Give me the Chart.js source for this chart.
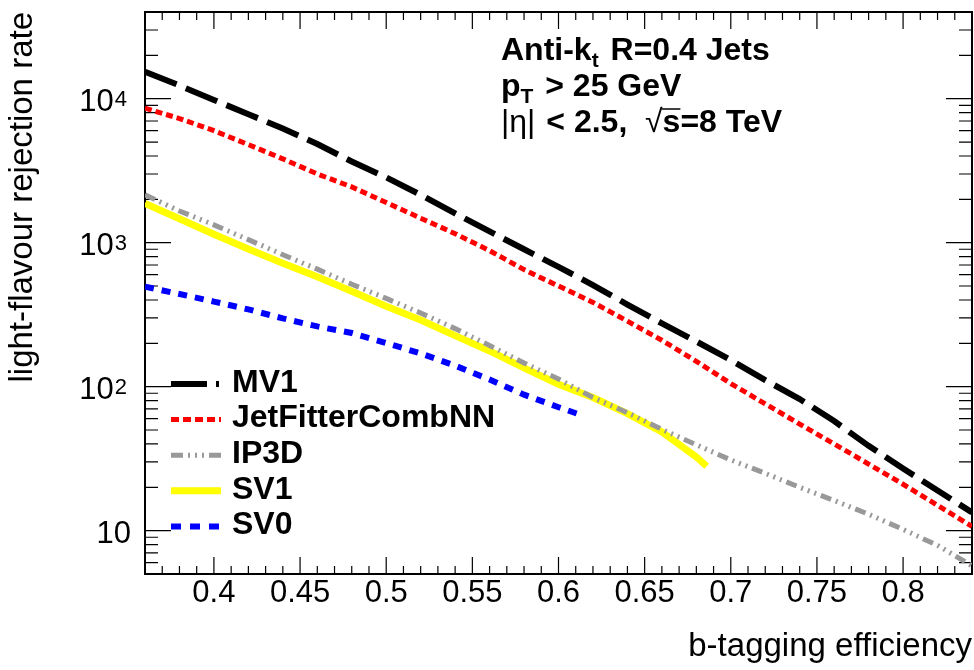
<!DOCTYPE html>
<html><head><meta charset="utf-8">
<script src="https://cdn.jsdelivr.net/npm/chart.js@4/dist/chart.umd.min.js"></script>
<style>html,body{margin:0;padding:0;background:#fff;}canvas{display:block;}</style>
</head><body>
<canvas id="c" width="974" height="670"></canvas>
<script>
// ---- data ----
const effMain = [0.36,0.38,0.40,0.42,0.44,0.46,0.48,0.50,0.52,0.54,0.56,0.58,0.60,0.62,0.64,0.66,0.68,0.70,0.72,0.74,0.76,0.78,0.80,0.82,0.84];
const mv1 =       [15400,12350,9800,7800,6210,4840,3660,2840,2150,1595,1197,900,679,508,372,275,206,153,111,82,57.7,38.8,27,19,13.4];
const jetFitter = [8600,7280,6000,4800,3820,3000,2440,1900,1480,1155,880,650,500,385,285,210,150,105,76,55,40,29,21,15,10.7];
const ip3d =      [2150,1660,1330,1050,825,655,515,410,325,253,193,146,113,84,66,50.5,39.5,31,25,20,16.2,13,10.2,7.9,5.7];
const effSV1 = [0.36,0.38,0.40,0.42,0.44,0.46,0.48,0.50,0.52,0.54,0.56,0.58,0.60,0.62,0.64,0.66,0.68,0.686];
const sv1 =    [1870,1465,1145,905,720,580,460,362,290,226,177,135,104,84,65,48.5,32.5,28];
const effSV0 = [0.36,0.38,0.40,0.42,0.44,0.46,0.48,0.50,0.52,0.54,0.56,0.58,0.60,0.614];
const sv0 =    [495,440,390,344,298,262,236,201,170,140,112,88,72,63];
const seriesNames = ['MV1','JetFitterCombNN','IP3D','SV1','SV0'];
const xTickValues = [0.4,0.45,0.5,0.55,0.6,0.65,0.7,0.75,0.8];
const yTickValues = [10,100,1000,10000];
const yTickExponents = ['', '2', '3', '4'];

const FONT = "'Liberation Sans', Arial, Helvetica, sans-serif";
const FIG_SPACE = '\u2007';
const pts = (xs, ys) => xs.map((x, i) => ({x: x, y: ys[i]}));

const frameTicks = {
  id: 'frameTicks',
  beforeDatasetsDraw(chart) {
    const {ctx, chartArea: a, scales: {x, y}} = chart;
    ctx.save();
    ctx.strokeStyle = '#000';
    ctx.lineWidth = 1.2;
    ctx.beginPath();
    for (let k = 36; k <= 84; k++) {
      const px = x.getPixelForValue(k / 100);
      const L = (k % 5 === 0) ? 17 : 8;
      ctx.moveTo(px, a.bottom); ctx.lineTo(px, a.bottom - L);
      ctx.moveTo(px, a.top); ctx.lineTo(px, a.top + L);
    }
    for (let e = 0; e <= 4; e++) {
      for (let m = 1; m <= 9; m++) {
        const v = m * Math.pow(10, e);
        if (v < y.min || v > y.max) continue;
        const py = y.getPixelForValue(v);
        const L = m === 1 ? 26 : 13;
        ctx.moveTo(a.left, py); ctx.lineTo(a.left + L, py);
        ctx.moveTo(a.right, py); ctx.lineTo(a.right - L, py);
      }
    }
    ctx.stroke();
    ctx.lineWidth = 2;
    ctx.strokeRect(a.left, a.top, a.right - a.left, a.bottom - a.top);
    ctx.restore();
  }
};

const legendDashes = [[36,9,3,20],[8,4],[12,5,2,5,2,5,2,5],[],[10,9]];
const overlay = {
  id: 'overlay',
  afterDatasetsDraw(chart) {
    const ctx = chart.ctx;
    const y = chart.scales.y;
    ctx.save();
    // exponents of the y tick labels (library draws the "10" part)
    ctx.font = '31px ' + FONT;
    const labelRight = y.right - y.options.ticks.padding;
    const fsw = ctx.measureText(FIG_SPACE).width;
    ctx.font = '22px ' + FONT;
    ctx.fillStyle = '#000';
    ctx.textAlign = 'left';
    ctx.textBaseline = 'alphabetic';
    y.ticks.forEach(t => {
      const i = yTickValues.indexOf(t.value);
      if (i < 0 || !yTickExponents[i]) return;
      const py = y.getPixelForValue(t.value);
      ctx.fillText(yTickExponents[i], labelRight - fsw + 1, py + 7);
    });
    // legend
    chart.data.datasets.forEach((ds, i) => {
      const yy = 384 + i * 35.6;
      ctx.beginPath();
      ctx.setLineDash(legendDashes[i]);
      ctx.lineCap = 'butt';
      ctx.strokeStyle = ds.borderColor;
      ctx.lineWidth = ds.borderWidth;
      ctx.moveTo(171, yy); ctx.lineTo(221, yy);
      ctx.stroke();
      ctx.setLineDash([]);
      ctx.fillStyle = '#000';
      ctx.font = 'bold 32px ' + FONT;
      ctx.textBaseline = 'middle';
      ctx.textAlign = 'left';
      ctx.fillText(ds.label, 232, yy - 1);
    });
    // annotation
    ctx.textBaseline = 'alphabetic';
    ctx.fillStyle = '#000';
    const big = 'bold 32px ' + FONT, small = 'bold 21px ' + FONT, reg = '32px ' + FONT;
    const seg = (parts, x0, y0) => {
      let x = x0;
      parts.forEach(p => {
        ctx.font = p.f;
        ctx.fillText(p.t, x, y0 + (p.dy || 0));
        p.x = x; p.w = ctx.measureText(p.t).width;
        x += p.w + (p.gap || 0);
      });
      return parts;
    };
    seg([{t:'Anti-k', f:big},{t:'t', f:small, dy:7, gap:3},{t:' R=0.4 Jets', f:big}], 501, 60);
    seg([{t:'p', f:big},{t:'T', f:small, dy:7, gap:3},{t:' > 25 GeV', f:big}], 501, 96);
    const l3 = seg([{t:'|', f:reg},{t:'\u03B7', f:reg},{t:'|', f:reg, gap:2},{t:' < 2.5,  ', f:big},{t:'\u221A', f:reg},{t:'s=8 TeV', f:big}], 501, 132);
    ctx.font = big;
    const sw = ctx.measureText('s').width;
    ctx.lineWidth = 1.5; ctx.strokeStyle = '#000';
    ctx.beginPath();
    ctx.moveTo(l3[4].x + l3[4].w - 1, 109); ctx.lineTo(l3[5].x + sw, 109);
    ctx.stroke();
    ctx.restore();
  }
};

const zeroPad = s => { s.paddingTop = 0; s.paddingBottom = 0; s.paddingLeft = 0; s.paddingRight = 0; };

new Chart(document.getElementById('c'), {
  type: 'line',
  data: {
    datasets: [
      {label: seriesNames[0], data: pts(effMain, mv1), borderColor: '#000000', borderWidth: 6, borderDash: [34,10]},
      {label: seriesNames[1], data: pts(effMain, jetFitter), borderColor: '#ff0000', borderWidth: 5, borderDash: [7,4]},
      {label: seriesNames[2], data: pts(effMain, ip3d), borderColor: '#999999', borderWidth: 5, borderDash: [11,5,2,5,2,5,2,5]},
      {label: seriesNames[3], data: pts(effSV1, sv1), borderColor: '#ffff00', borderWidth: 7},
      {label: seriesNames[4], data: pts(effSV0, sv0), borderColor: '#0000ff', borderWidth: 6, borderDash: [9,8]}
    ]
  },
  options: {
    responsive: false,
    animation: false,
    devicePixelRatio: 1,
    layout: {padding: {top: 12, right: 2, left: 0, bottom: 0}},
    elements: {point: {radius: 0}, line: {tension: 0, fill: false, borderCapStyle: 'butt'}},
    plugins: {legend: {display: false}, tooltip: {enabled: false}},
    scales: {
      x: {
        type: 'linear', min: 0.36, max: 0.84,
        afterBuildTicks: s => { s.ticks = xTickValues.map(v => ({value: v})); },
        afterFit: s => { s.height = 96; zeroPad(s); },
        grid: {display: false, drawTicks: false},
        border: {display: false},
        ticks: {autoSkip: false, maxRotation: 0, padding: 1, color: '#000',
          font: {family: FONT, size: 31},
          callback: v => String(Math.round(v * 100) / 100)},
        title: {display: true, text: 'b-tagging efficiency', align: 'end', color: '#000',
          font: {family: FONT, size: 33}, padding: {top: 0, bottom: 3}}
      },
      y: {
        type: 'logarithmic', min: 5, max: 40000,
        afterBuildTicks: s => { s.ticks = yTickValues.map(v => ({value: v})); },
        afterFit: s => { s.width = 145; zeroPad(s); },
        grid: {display: false, drawTicks: false},
        border: {display: false},
        ticks: {autoSkip: false, padding: 14, labelOffset: 4, color: '#000',
          font: {family: FONT, size: 31},
          callback: v => { const i = yTickValues.indexOf(v); if (i < 0) return ''; return '10' + (yTickExponents[i] ? FIG_SPACE : ''); }},
        title: {display: true, text: 'light-flavour rejection rate', align: 'end', color: '#000',
          font: {family: FONT, size: 33}, padding: {top: 3, bottom: 0}}
      }
    }
  },
  plugins: [frameTicks, overlay]
});
</script>
</body></html>
